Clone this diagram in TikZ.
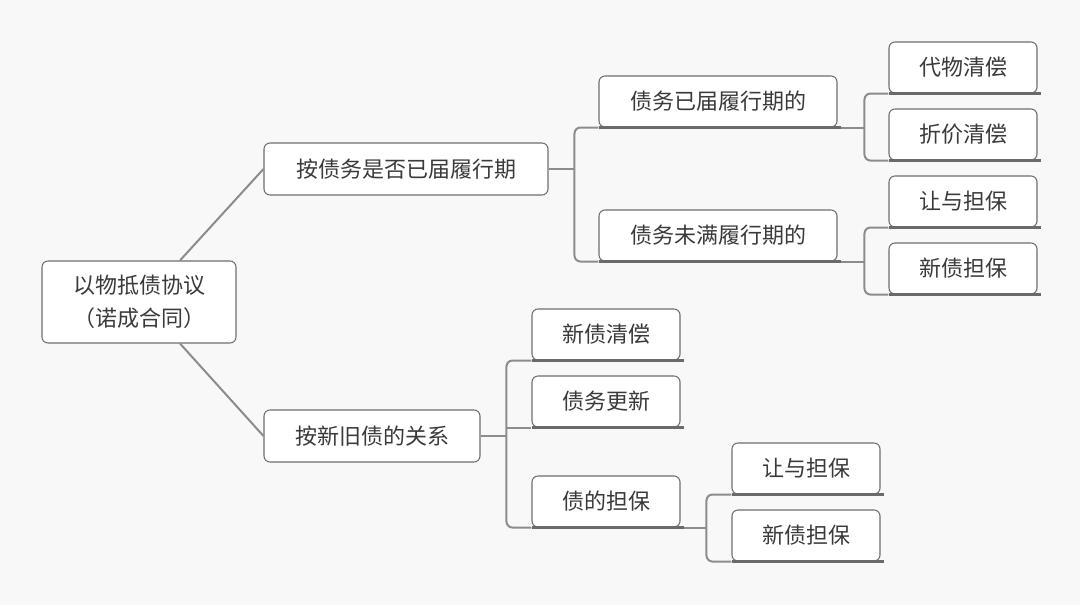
\documentclass[tikz,border=0pt]{standalone}
\usepackage{fontspec}
\newfontfamily\cjk{Noto Sans CJK SC}
\usetikzlibrary{calc}
\definecolor{bg}{HTML}{F8F8F8}
\definecolor{boxc}{HTML}{6E6E6E}
\definecolor{linec}{HTML}{8C8C8C}
\definecolor{ulc}{HTML}{6A6A6A}
\definecolor{txt}{HTML}{3A3A3A}
\begin{document}
\begin{tikzpicture}[x=0.75pt,y=-0.75pt,
  box/.style={draw=boxc, fill=white, rounded corners=4.5pt, line width=0.8pt, inner sep=0pt,
    font=\cjk\fontsize{16.5}{24.75}\selectfont, text=txt, align=center},
  sz/.style 2 args={minimum width=#1*0.75pt, minimum height=#2*0.75pt},
  conn/.style={draw=linec, line width=1.5pt, rounded corners=4.5pt},
  uline/.style={draw=ulc, line width=2pt}]
\fill[bg] (0,0) rectangle (1080,605);
\useasboundingbox (0,0) rectangle (1080,605);

% nodes
\node[box, sz={194}{82}] (root) at (139,302) {以物抵债协议\\（诺成合同）};
\node[box, sz={284}{52}] (A) at (406,169) {按债务是否已届履行期};
\node[box, sz={216}{52}] (B) at (372,436) {按新旧债的关系};
\node[box, sz={238}{51}] (A1) at (718,101.5) {债务已届履行期的};
\node[box, sz={238}{51}] (A2) at (718,235.5) {债务未满履行期的};
\node[box, sz={148}{51}] (A11) at (963,67.5) {代物清偿};
\node[box, sz={148}{51}] (A12) at (963,134.5) {折价清偿};
\node[box, sz={148}{51}] (A21) at (963,201.5) {让与担保};
\node[box, sz={148}{51}] (A22) at (963,268.5) {新债担保};
\node[box, sz={148}{51}] (B1) at (606,334.5) {新债清偿};
\node[box, sz={148}{51}] (B2) at (606,401.5) {债务更新};
\node[box, sz={148}{51}] (B3) at (606,501.5) {债的担保};
\node[box, sz={148}{51}] (B31) at (806,468.5) {让与担保};
\node[box, sz={148}{51}] (B32) at (806,535.5) {新债担保};

% root to level 1
\draw[conn] ($(root.north)+(41,0)$) -- (A.west);
\draw[conn] ($(root.south)+(41,0)$) -- (B.west);

% bus coordinates
\coordinate (bA) at ($(A1.south west)+(-24,0)$);
\coordinate (bA1) at ($(A11.south west)+(-24,0)$);
\coordinate (bA2) at ($(A21.south west)+(-24,0)$);
\coordinate (bB) at ($(B1.south west)+(-25,0)$);
\coordinate (bB3) at ($(B31.south west)+(-25,0)$);

% A
\draw[conn] (A1.south west) -| (bA |- A2.south west) -- (A2.south west);
\draw[conn] (A.east) -- (bA |- A.east);
% A1
\draw[conn] (A11.south west) -| (bA1 |- A12.south west) -- (A12.south west);
\draw[conn] (A1.south east) -- (bA1 |- A1.south east);
% A2
\draw[conn] (A21.south west) -| (bA2 |- A22.south west) -- (A22.south west);
\draw[conn] (A2.south east) -- (bA2 |- A2.south east);
% B
\draw[conn] (B1.south west) -| (bB |- B3.south west) -- (B3.south west);
\draw[conn] (B2.south west) -- (bB |- B2.south west);
\draw[conn] (B.east) -- (bB |- B.east);
% B3
\draw[conn] (B31.south west) -| (bB3 |- B32.south west) -- (B32.south west);
\draw[conn] (B3.south east) -- (bB3 |- B3.south east);

% underlines
\foreach \n in {A1,A2,A11,A12,A21,A22,B1,B2,B3,B31,B32}{
  \draw[uline] ($(\n.south west)+(1,0)$) -- ($(\n.south east)+(3,0)$);
}
\end{tikzpicture}
\end{document}
